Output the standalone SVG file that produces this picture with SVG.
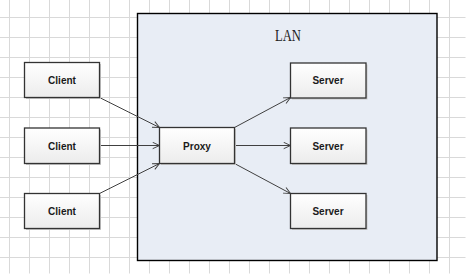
<svg xmlns="http://www.w3.org/2000/svg" width="466" height="274" viewBox="0 0 466 274">
  <defs>
    <linearGradient id="boxFill" x1="0" y1="0" x2="0" y2="1">
      <stop offset="0" stop-color="#ffffff"/>
      <stop offset="1" stop-color="#ececec"/>
    </linearGradient>
    <pattern id="grid" x="9.5" y="17.5" width="20" height="20" patternUnits="userSpaceOnUse">
      <path d="M0.5 0 V20 M0 0.5 H20" fill="none" stroke="#d9d9d9" stroke-width="1"/>
    </pattern>
    <marker id="arrow" viewBox="0 0 10 10" refX="9.5" refY="5" markerWidth="8" markerHeight="8" markerUnits="userSpaceOnUse" orient="auto">
      <path d="M1 1 L9.5 5 L1 9" fill="none" stroke="#404040" stroke-width="1.2"/>
    </marker>
    <style>
      .shadow { fill: #c8c8c8; }
      .box { fill: url(#boxFill); stroke: #333333; stroke-width: 1.3; }
      .label { font-family: "Liberation Sans", Arial, sans-serif; font-size: 10px; font-weight: bold; fill: #1a1a1a; text-anchor: middle; }
      .edge { fill: none; stroke: #404040; stroke-width: 1; marker-end: url(#arrow); }
    </style>
  </defs>

  <!-- background grid -->
  <rect x="0" y="0" width="466" height="274" fill="#ffffff"/>
  <rect x="0" y="0" width="466" height="274" fill="url(#grid)" transform="translate(-0.5 -0.5)"/>

  <!-- LAN container -->
  <g id="lan">
    <rect x="137.5" y="13.5" width="299.5" height="247" fill="#e8edf5" stroke="#000000" stroke-width="1.4"/>
    <text x="288" y="41" font-family="'Liberation Serif', 'Times New Roman', serif" font-size="16" fill="#222222" text-anchor="middle" textLength="26" lengthAdjust="spacingAndGlyphs">LAN</text>
  </g>

  <!-- connectors -->
  <g id="connectors">
    <line class="edge" x1="99.5" y1="97.5" x2="159.5" y2="127.5"/>
    <line class="edge" x1="99.5" y1="145.5" x2="159.5" y2="145.5"/>
    <line class="edge" x1="99.5" y1="193.5" x2="159.5" y2="163.5"/>
    <line class="edge" x1="234.5" y1="127.5" x2="290.5" y2="97.5"/>
    <line class="edge" x1="234.5" y1="145.5" x2="290.5" y2="145.5"/>
    <line class="edge" x1="234.5" y1="163.5" x2="290.5" y2="193.5"/>
  </g>

  <!-- nodes -->
  <g id="client1">
    <rect class="shadow" x="26" y="64" width="75" height="35"/>
    <rect class="box" x="24.5" y="62.5" width="75" height="35"/>
    <text class="label" x="62" y="83.5">Client</text>
  </g>
  <g id="client2">
    <rect class="shadow" x="26" y="129.5" width="75" height="35.5"/>
    <rect class="box" x="24.5" y="128" width="75" height="35.5"/>
    <text class="label" x="62" y="149.5">Client</text>
  </g>
  <g id="client3">
    <rect class="shadow" x="26" y="195" width="75" height="35"/>
    <rect class="box" x="24.5" y="193.5" width="75" height="35"/>
    <text class="label" x="62" y="214.5">Client</text>
  </g>
  <g id="proxy">
    <rect class="shadow" x="161" y="129" width="75" height="36"/>
    <rect class="box" x="159.5" y="127.5" width="75" height="36"/>
    <text class="label" x="197" y="149.5">Proxy</text>
  </g>
  <g id="server1">
    <rect class="shadow" x="292" y="64.5" width="75.5" height="35"/>
    <rect class="box" x="290.5" y="63" width="75.5" height="35"/>
    <text class="label" x="328" y="84">Server</text>
  </g>
  <g id="server2">
    <rect class="shadow" x="292" y="129.5" width="75.5" height="35.5"/>
    <rect class="box" x="290.5" y="128" width="75.5" height="35.5"/>
    <text class="label" x="328" y="149.5">Server</text>
  </g>
  <g id="server3">
    <rect class="shadow" x="292" y="195" width="75.5" height="35"/>
    <rect class="box" x="290.5" y="193.5" width="75.5" height="35"/>
    <text class="label" x="328" y="214.5">Server</text>
  </g>
</svg>
